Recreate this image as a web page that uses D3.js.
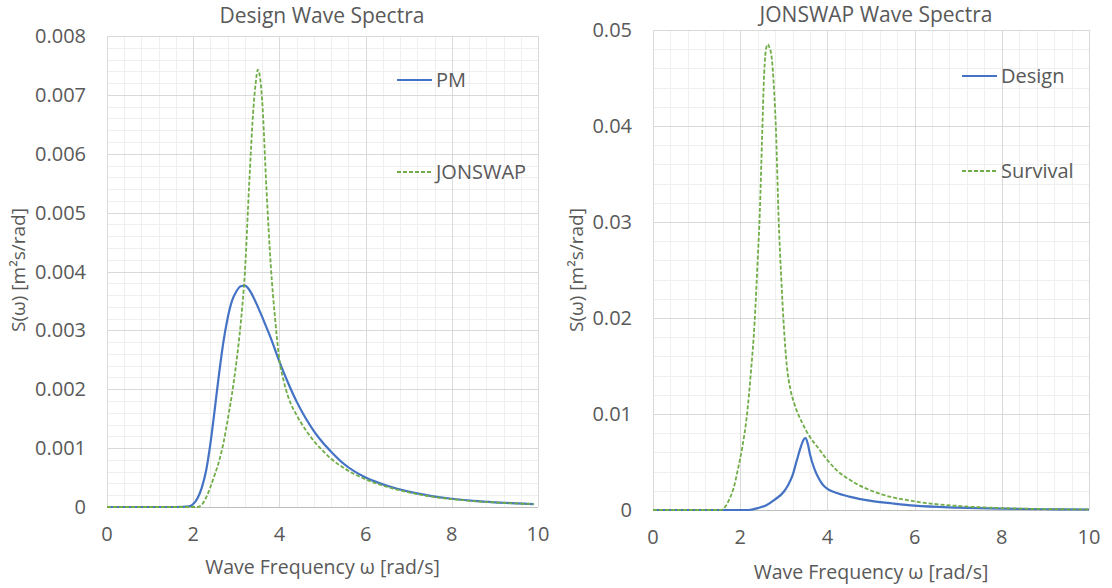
<!DOCTYPE html>
<html>
<head>
<meta charset="utf-8">
<script src="https://cdn.jsdelivr.net/npm/d3@7"></script>
<style>
  body { margin: 0; background: #fff; }
  svg { display: block; }
  text { font-family: "Open Sans", sans-serif; fill: #595959; }
</style>
</head>
<body>
<svg id="chart" width="1112" height="588"></svg>
<script>
// Values (omega in rad/s, S in m^2 s/rad)

// Left chart: Design Wave Spectra
var pmOmega = [0, 1.6, 1.9, 2.0, 2.1, 2.2, 2.3, 2.4, 2.5, 2.6, 2.7, 2.8, 2.9, 3.0, 3.1, 3.2, 3.3, 3.4, 3.5, 3.6, 3.7, 3.8, 4.0, 4.2, 4.4, 4.6, 4.8, 5.0, 5.2, 5.5, 6.0, 6.5, 7.0, 7.5, 8.0, 8.5, 9.0, 9.5, 9.9];
var pmS = [0, 0, 0.00001, 0.00005, 0.00015, 0.00033, 0.00062, 0.00108, 0.00166, 0.00226, 0.0028, 0.00321, 0.0035, 0.00366, 0.00375, 0.00376, 0.00369, 0.00356, 0.0034, 0.00323, 0.00305, 0.00287, 0.00247, 0.00211, 0.00179, 0.00152, 0.00129, 0.0011, 0.00094, 0.00073, 0.0005, 0.00036, 0.00026, 0.00019, 0.00014, 0.000105, 0.00008, 0.000062, 0.00005];

var jonOmega = [0, 2.1, 2.2, 2.3, 2.4, 2.5, 2.6, 2.7, 2.8, 2.9, 3.0, 3.1, 3.2, 3.3, 3.4, 3.45, 3.5, 3.55, 3.6, 3.7, 3.8, 3.9, 4.0, 4.1, 4.2, 4.4, 4.6, 4.8, 5.0, 5.2, 5.5, 6.0, 6.5, 7.0, 7.5, 8.0, 8.5, 9.0, 9.5, 9.9];
var jonS = [0, 0, 0.00004, 0.00016, 0.00034, 0.00055, 0.00078, 0.00108, 0.00148, 0.00192, 0.00245, 0.0031, 0.004, 0.0055, 0.0068, 0.0072, 0.00743, 0.0073, 0.0069, 0.0054, 0.0041, 0.0032, 0.0025, 0.00214, 0.00188, 0.00156, 0.00132, 0.00112, 0.00096, 0.00082, 0.00066, 0.00047, 0.00034, 0.00025, 0.00018, 0.000135, 0.0001, 0.000078, 0.00006, 0.00005];

// Right chart: JONSWAP Wave Spectra
var designOmega = [0, 2.2, 2.4, 2.6, 2.8, 3.0, 3.1, 3.2, 3.3, 3.4, 3.45, 3.5, 3.55, 3.6, 3.7, 3.8, 3.9, 4.0, 4.2, 4.5, 5.0, 5.5, 6.0, 7.0, 8.0, 9.0, 10];
var designS = [0, 0, 0.0002, 0.0005, 0.0011, 0.0019, 0.0026, 0.0036, 0.0052, 0.0067, 0.0073, 0.0075, 0.0069, 0.0058, 0.0043, 0.0033, 0.0026, 0.0022, 0.0018, 0.0014, 0.00095, 0.00068, 0.00045, 0.00025, 0.00014, 0.00008, 0.00005];

var survOmega = [0, 1.55, 1.65, 1.75, 1.85, 1.95, 2.05, 2.15, 2.25, 2.33, 2.4, 2.45, 2.5, 2.55, 2.6, 2.63, 2.67, 2.72, 2.78, 2.82, 2.88, 2.94, 3.0, 3.07, 3.15, 3.24, 3.43, 3.6, 3.8, 4.0, 4.2, 4.6, 5.2, 6.0, 7.0, 8.0, 9.0, 10];
var survS = [0, 0, 0.0003, 0.0011, 0.0023, 0.0043, 0.0066, 0.0097, 0.0146, 0.0195, 0.026, 0.031, 0.0385, 0.0455, 0.0482, 0.0485, 0.0482, 0.0472, 0.0435, 0.0396, 0.0305, 0.0243, 0.0192, 0.015, 0.0126, 0.0111, 0.009, 0.0076, 0.0064, 0.0052, 0.0042, 0.0029, 0.0017, 0.0009, 0.00042, 0.0002, 0.0001, 0.00006];

var xTicks = [0, 2, 4, 6, 8, 10];
var leftYTicks = [0, 0.001, 0.002, 0.003, 0.004, 0.005, 0.006, 0.007, 0.008];
var rightYTicks = [0, 0.01, 0.02, 0.03, 0.04, 0.05];

var BLUE = '#4472c4', GREEN = '#70ad47';

function pairs(xs, ys) {
  return xs.map(function(x, i) { return [x, ys[i]]; });
}

var svg = d3.select('#chart');

function drawPanel(c) {
  var x = d3.scaleLinear().domain([0, 10]).range([c.left, c.right]);
  var y = d3.scaleLinear().domain([0, c.yMax]).range([c.bottom, c.top]);
  var g = svg.append('g');

  // minor grid
  g.append('g').selectAll('line')
    .data(d3.range(0, 10.001, 0.4))
    .enter().append('line')
    .attr('x1', function(d) { return Math.round(x(d)) + 0.5; })
    .attr('x2', function(d) { return Math.round(x(d)) + 0.5; })
    .attr('y1', c.top).attr('y2', c.bottom)
    .style('stroke', '#efefef');
  g.append('g').selectAll('line')
    .data(d3.range(0, c.yMax * 1.0001, c.yMinor))
    .enter().append('line')
    .attr('x1', c.left).attr('x2', c.right)
    .attr('y1', function(d) { return Math.round(y(d)) + 0.5; })
    .attr('y2', function(d) { return Math.round(y(d)) + 0.5; })
    .style('stroke', '#efefef');

  // major grid
  g.append('g').selectAll('line')
    .data(xTicks)
    .enter().append('line')
    .attr('x1', function(d) { return Math.round(x(d)) + 0.5; })
    .attr('x2', function(d) { return Math.round(x(d)) + 0.5; })
    .attr('y1', c.top).attr('y2', c.bottom)
    .style('stroke', '#d9d9d9');
  g.append('g').selectAll('line')
    .data(c.yTicks)
    .enter().append('line')
    .attr('x1', c.left).attr('x2', c.right)
    .attr('y1', function(d) { return Math.round(y(d)) + 0.5; })
    .attr('y2', function(d) { return Math.round(y(d)) + 0.5; })
    .style('stroke', function(d) { return d === 0 ? '#bfbfbf' : '#d9d9d9'; });

  // tick labels
  g.append('g').selectAll('text')
    .data(c.yTicks)
    .enter().append('text')
    .attr('x', c.yLabelX)
    .attr('y', function(d) { return y(d); })
    .attr('dy', '0.35em')
    .attr('text-anchor', 'end')
    .style('font-size', '20px')
    .text(function(d) { return d === 0 ? '0' : String(+d.toFixed(4)); });
  g.append('g').selectAll('text')
    .data(xTicks)
    .enter().append('text')
    .attr('x', function(d) { return x(d); })
    .attr('y', c.xLabelY)
    .attr('text-anchor', 'middle')
    .style('font-size', '20px')
    .text(function(d) { return d; });

  // titles
  g.append('text')
    .attr('x', c.titleX).attr('y', c.titleY)
    .attr('text-anchor', 'middle')
    .style('font-size', '21px')
    .text(c.title);
  g.append('text')
    .attr('x', (c.left + c.right) / 2).attr('y', c.xTitleY)
    .attr('text-anchor', 'middle')
    .style('font-size', '19.5px')
    .text('Wave Frequency ω [rad/s]');
  g.append('text')
    .attr('transform', 'translate(' + c.yTitleX + ',270) rotate(-90)')
    .attr('dy', '0.35em')
    .attr('text-anchor', 'middle')
    .style('font-size', '19px')
    .text('S(ω) [m²s/rad]');

  // series
  var line = d3.line()
    .x(function(d) { return x(d[0]); })
    .y(function(d) { return y(d[1]); })
    .curve(d3.curveMonotoneX);
  c.series.forEach(function(s) {
    g.append('path')
      .datum(s.data)
      .attr('d', line)
      .style('fill', 'none')
      .style('stroke', s.color)
      .style('stroke-width', s.dash ? 1.8 : 2.2)
      .style('stroke-dasharray', s.dash ? '4,2' : null);

    // legend entry
    g.append('line')
      .attr('x1', c.legendX).attr('x2', c.legendX + 35)
      .attr('y1', s.legendY).attr('y2', s.legendY)
      .style('stroke', s.color)
      .style('stroke-width', s.dash ? 1.8 : 2.2)
      .style('stroke-dasharray', s.dash ? '4,2' : null);
    g.append('text')
      .attr('x', c.legendX + 39).attr('y', s.legendY)
      .attr('dy', '0.35em')
      .style('font-size', '20px')
      .text(s.name);
  });
}

drawPanel({
  left: 107, right: 538, top: 36, bottom: 507,
  yMax: 0.008, yMinor: 0.0002, yTicks: leftYTicks,
  yLabelX: 86, xLabelY: 541, xTitleY: 574, yTitleX: 18,
  title: 'Design Wave Spectra', titleX: 322, titleY: 23,
  legendX: 397,
  series: [
    { name: 'PM', data: pairs(pmOmega, pmS), color: BLUE, dash: false, legendY: 80 },
    { name: 'JONSWAP', data: pairs(jonOmega, jonS), color: GREEN, dash: true, legendY: 172 }
  ]
});

drawPanel({
  left: 653, right: 1089, top: 30, bottom: 510,
  yMax: 0.05, yMinor: 0.002, yTicks: rightYTicks,
  yLabelX: 632, xLabelY: 544, xTitleY: 579, yTitleX: 576,
  title: 'JONSWAP Wave Spectra', titleX: 876, titleY: 22,
  legendX: 962,
  series: [
    { name: 'Design', data: pairs(designOmega, designS), color: BLUE, dash: false, legendY: 76 },
    { name: 'Survival', data: pairs(survOmega, survS), color: GREEN, dash: true, legendY: 171 }
  ]
});
</script>
</body>
</html>
